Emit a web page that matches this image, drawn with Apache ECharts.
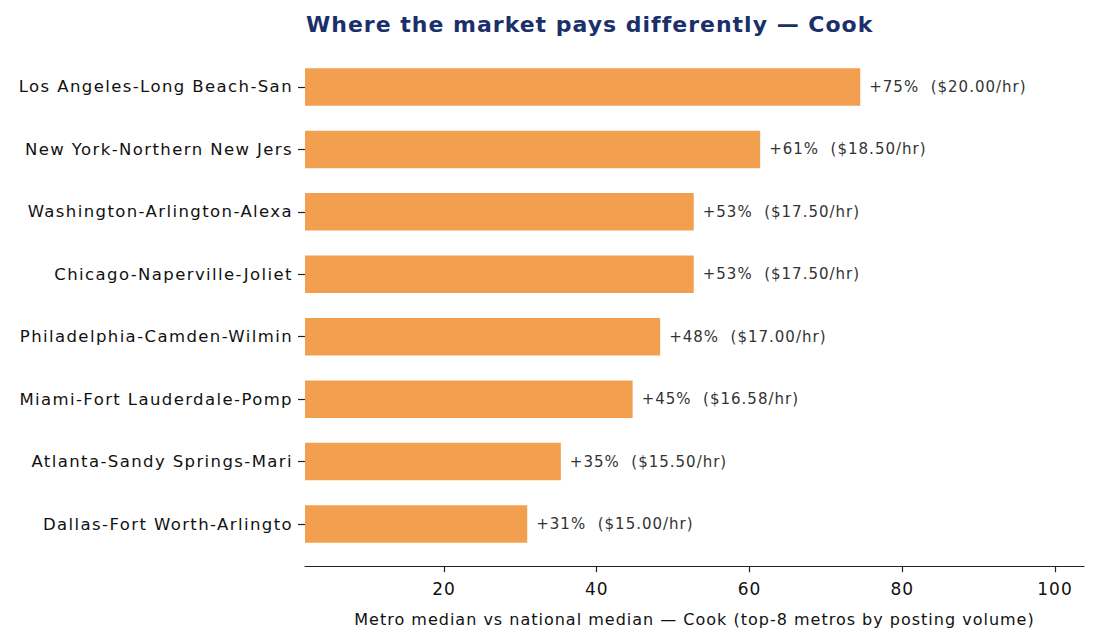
<!DOCTYPE html>
<html>
<head>
<meta charset="utf-8">
<script src="https://cdn.jsdelivr.net/npm/echarts@6/dist/echarts.min.js"></script>
<style>
html,body{margin:0;padding:0;background:#fff;}
#chart{width:1095px;height:644px;}
#chart text{letter-spacing:1px;}
#chart text[style*="16.5px"]{letter-spacing:1.4px;}
</style>
</head>
<body>
<div id="chart"></div>
<script>
const metros = [
  "Los Angeles-Long Beach-San",
  "New York-Northern New Jers",
  "Washington-Arlington-Alexa",
  "Chicago-Naperville-Joliet",
  "Philadelphia-Camden-Wilmin",
  "Miami-Fort Lauderdale-Pomp",
  "Atlanta-Sandy Springs-Mari",
  "Dallas-Fort Worth-Arlingto"
];
const premiumPct = [74.5, 61.4, 52.7, 52.7, 48.3, 44.7, 35.3, 30.9];
const pctLabels = [75, 61, 53, 53, 48, 45, 35, 31];
const hourlyWage = ["20.00", "18.50", "17.50", "17.50", "17.00", "16.58", "15.50", "15.00"];
const xTicks = [20, 40, 60, 80, 100];

const FONT = "'DejaVu Sans'";
const chart = echarts.init(document.getElementById('chart'), null, {renderer: 'svg'});
chart.setOption({
  animation: false,
  backgroundColor: '#ffffff',
  title: {
    text: 'Where the market pays differently — Cook',
    left: 301, top: 8,
    textStyle: {fontFamily: FONT, fontSize: 22, fontWeight: 'bold', color: '#1b2f6b'}
  },
  grid: {left: 305, right: 11, top: 55.75, height: 499.5},
  xAxis: {
    type: 'value', min: 1.8, max: 103.8, offset: 11,
    name: 'Metro median vs national median — Cook (top-8 metros by posting volume)',
    nameLocation: 'middle', nameGap: 45,
    nameTextStyle: {fontFamily: FONT, fontSize: 16, color: '#111'},
    axisLine: {show: true, onZero: false, lineStyle: {color: '#222', width: 1.2}},
    axisTick: {show: true, length: 6, customValues: xTicks, lineStyle: {color: '#222', width: 1.2}},
    axisLabel: {customValues: xTicks, fontFamily: FONT, fontSize: 17, color: '#111', margin: 14},
    splitLine: {show: false}
  },
  yAxis: {
    type: 'category', data: metros, inverse: true,
    axisLine: {show: false},
    axisTick: {show: true, length: 7, alignWithLabel: true, lineStyle: {color: '#222', width: 1.2}},
    axisLabel: {fontFamily: FONT, fontSize: 16.5, color: '#111', margin: 12}
  },
  series: [{
    type: 'bar', data: premiumPct, barWidth: '60%',
    itemStyle: {color: '#f2a04f'},
    label: {
      show: true, position: 'right', distance: 9,
      fontFamily: FONT, fontSize: 15, color: '#333',
      formatter: p => '+' + pctLabels[p.dataIndex] + '%  ($' + hourlyWage[p.dataIndex] + '/hr)'
    }
  }]
});
</script>
</body>
</html>
